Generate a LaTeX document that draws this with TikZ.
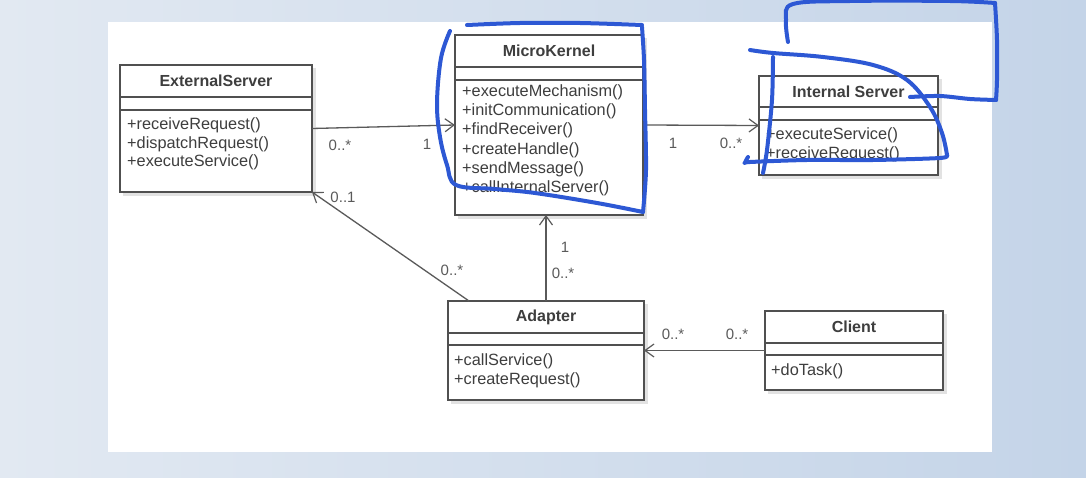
\documentclass[tikz,border=0pt]{standalone}
\usepackage{fontspec}
\setmainfont{Liberation Sans}
\usetikzlibrary{arrows.meta}
\definecolor{bgleft}{RGB}{226,233,242}
\definecolor{bgright}{RGB}{196,212,232}
\definecolor{textc}{RGB}{62,62,62}
\definecolor{boxc}{RGB}{80,80,80}
\definecolor{multc}{RGB}{90,90,90}
\definecolor{shadowc}{RGB}{226,226,226}
\definecolor{penc}{RGB}{45,88,212}
\tikzset{
  classbox/.style={draw=boxc, line width=1.4pt, fill=white, inner sep=0pt, outer sep=0pt, anchor=north west},
  classline/.style={draw=boxc, line width=1.4pt},
  titletext/.style={font=\fontsize{16}{18}\selectfont\bfseries, text=textc, inner sep=0pt},
  meth/.style={font=\fontsize{16.3}{18}\selectfont, text=textc, inner sep=0pt, anchor=base west},
  mult/.style={font=\fontsize{15}{17}\selectfont, text=multc, inner sep=0pt},
  assoc/.style={draw=multc, line width=1.3pt, -{Straight Barb[length=9pt,width=13pt,line width=1.2pt]}},
  pen/.style={draw=penc, line width=4pt, line cap=round, line join=round}
}
\newcommand\umlclass[8]{%
  \fill[shadowc] (#2+3,#3+3) rectangle (#4+4,#5+4);
  \node[classbox, minimum width={#4-#2}, minimum height={#5-#3}] (#1) at (#2,#3) {};
  \draw[classline] (#2,#6) -- (#4,#6);
  \draw[classline] (#2,#7) -- (#4,#7);
  \node[titletext] (#1-title) at ({(#2+#4)/2},{(#3+#6)/2}) {#8};
}
\newcommand\umlops[5]{%
  \foreach \m [count=\i] in {#5} {\node[meth] (#1-op\i) at (#2,{#3+(\i-1)*#4}) {\m};}
}
\begin{document}
\begin{tikzpicture}[x=1pt,y=-1pt]
\useasboundingbox (0,0) rectangle (1086,478);
\shade[left color=bgleft, right color=bgright] (0,0) rectangle (1086,478);
\fill[white] (108,22) rectangle (992,452);

\umlclass{es}{120}{65}{312}{192}{97}{110}{ExternalServer}
\umlops{es}{127}{130}{18.4}{+receiveRequest(),+dispatchRequest(),+executeService()}

\umlclass{mk}{455}{35}{643}{215}{67}{80}{MicroKernel}
\umlops{mk}{462}{96.5}{19.2}{+executeMechanism(),+initCommunication(),+findReceiver(),+createHandle(),+sendMessage(),+callInternalServer()}

\umlclass{is}{759}{76}{938}{175}{107}{120}{Internal Server}
\umlops{is}{766}{140}{18.4}{+executeService(),+receiveRequest()}

\umlclass{ad}{448}{301}{644}{400}{333}{345}{Adapter}
\umlops{ad}{454}{365}{19}{+callService(),+createRequest()}

\umlclass{cl}{765}{311}{943}{390}{343}{355}{Client}
\umlops{cl}{771}{375}{18.4}{+doTask()}

\draw[assoc] (es.east) -- (mk.west);
\draw[assoc] (mk.east) -- (is.west);
\draw[assoc] ([xshift=21pt]ad.north west) -- (es.south east);
\draw[assoc] (ad.north) -- (ad.north |- mk.south);
\draw[assoc] (cl.west) -- (cl.west -| ad.east);

\node[mult] (m1) at (340,145) {0..*};
\node[mult] (m2) at (427,144) {1};
\node[mult] (m3) at (673,143) {1};
\node[mult] (m4) at (731,143) {0..*};
\node[mult] (m5) at (343,197) {0..1};
\node[mult] (m6) at (452,270) {0..*};
\node[mult] (m7) at (565,247) {1};
\node[mult] (m8) at (563,273) {0..*};
\node[mult] (m9) at (673,334) {0..*};
\node[mult] (m10) at (737,334) {0..*};

% hand-drawn highlight strokes
\draw[pen] plot[smooth, tension=0.6] coordinates {(450,31) (441,58) (437,103) (440,137) (447,165) (456,185) (495,189) (535,193) (597,203) (643,212)};
\draw[pen] plot[smooth, tension=0.5] coordinates {(643,212) (646,170) (645,110) (644,60) (642,27)};
\draw[pen] plot[smooth, tension=0.5] coordinates {(467,25) (520,23) (580,23) (642,25)};

\draw[pen] plot[smooth, tension=0.6] coordinates {(788,42) (786,20) (793,4) (850,1) (950,1) (995,3)};
\draw[pen] plot[smooth, tension=0.5] coordinates {(995,3) (997,40) (997,80) (996,100)};
\draw[pen] plot[smooth, tension=0.5] coordinates {(996,100) (970,99) (940,96) (910,97)};

\draw[pen] plot[smooth, tension=0.6] coordinates {(750,50) (773,53) (823,57) (873,65) (907,80) (930,107) (942,133) (947,155)};
\draw[pen] plot[smooth, tension=0.5] coordinates {(947,155) (940,158) (873,160) (807,160) (750,162) (745,163) (748,157)};
\draw[pen] plot[smooth, tension=0.5] coordinates {(773,57) (772,100) (767,150) (763,173)};
\end{tikzpicture}
\end{document}
